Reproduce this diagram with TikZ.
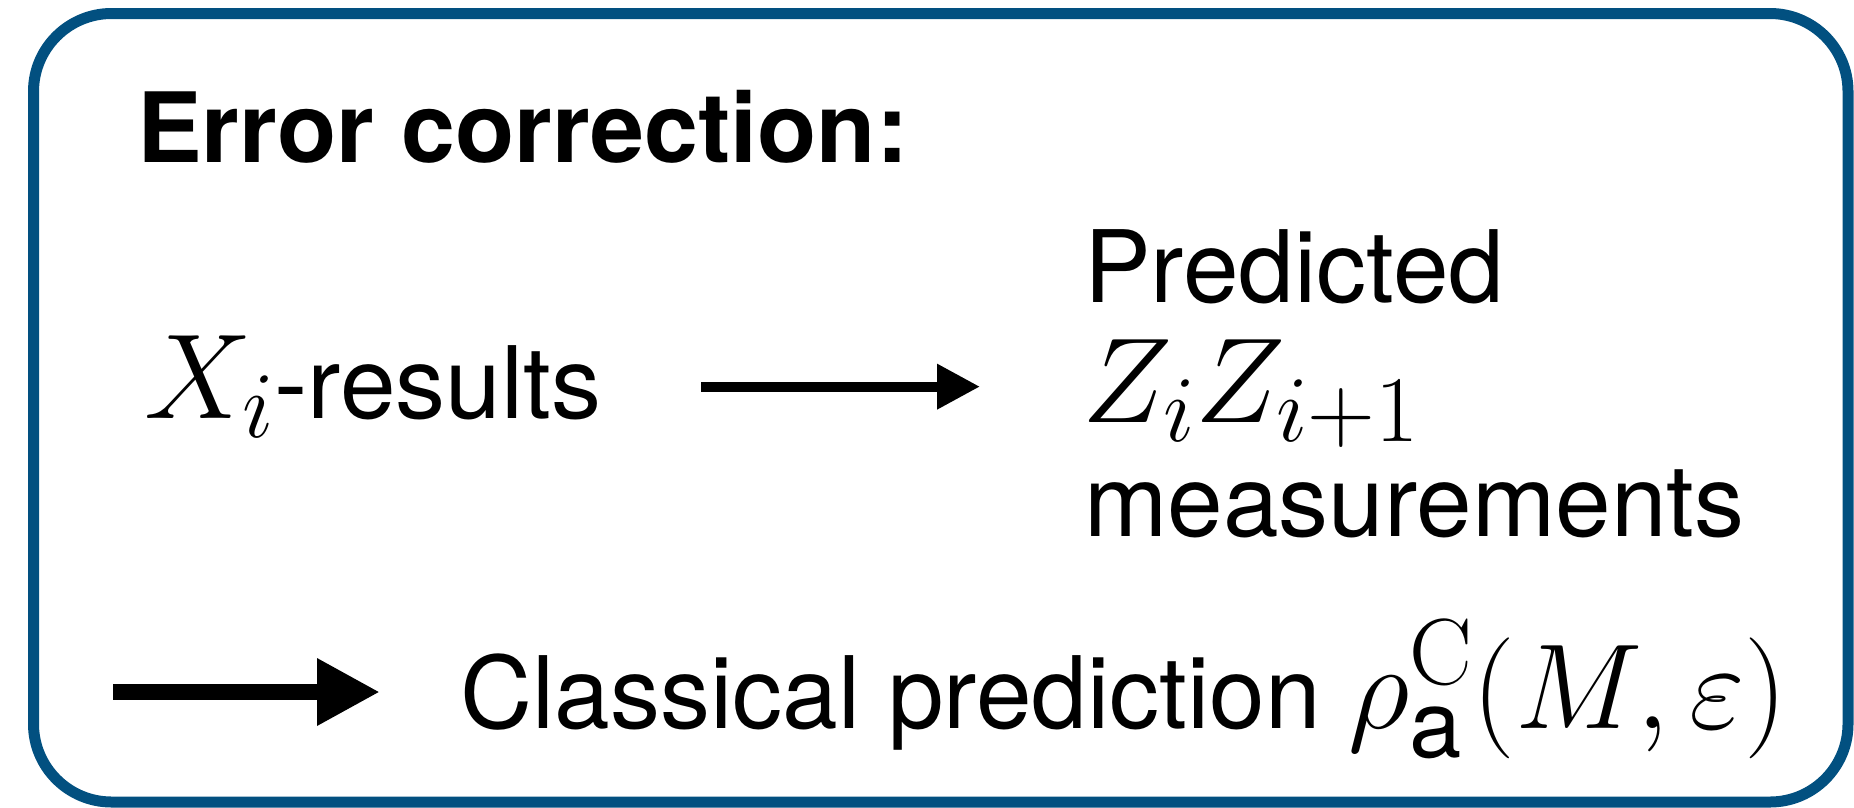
\RequirePackage{fix-cm}
\documentclass[tikz,border=0pt]{standalone}
\usepackage{amsmath}
\usepackage[no-math]{fontspec}
\setmainfont{TeX Gyre Heros}
\usepackage{tikz}
\usetikzlibrary{arrows.meta,positioning}
\definecolor{frameblue}{RGB}{2,80,128}
\DeclareMathSizes{121}{121}{94}{68}
\newcommand{\txtsz}{\fontsize{100}{120}\selectfont}
\newcommand{\titlesz}{\fontsize{97}{116}\selectfont}
\newcommand{\mathsz}{\fontsize{121}{142}\selectfont}

\begin{document}
\begin{tikzpicture}[x=1pt, y=-1pt,
  lbl/.style={inner sep=0pt, anchor=base west, font=\txtsz},
  arr/.style={-{Triangle[length=43pt, width=43pt]}, line width=10pt},
  bigarr/.style={-{Triangle[length=63pt, width=63pt]}, line width=16pt}
]
\useasboundingbox (0,0) rectangle (1854,807);
%% ---- frame ----
\draw[frameblue, line width=11pt, rounded corners=78pt] (33.5,13.5) rectangle (1848,802);

%% ---- texts ----
\node[lbl, font=\titlesz\bfseries] (title) at (137,162) {Error correction:};
\node[lbl] (xres) at (144,418) {{\mathsz$X_i$}-results};
\node[lbl] (pred) at (1084,302) {Predicted};
\node[lbl] (zz)   at (1082,422) {{\mathsz$Z_iZ_{i+1}$}};
\node[lbl] (meas) at (1084,536) {measurements};
\node[lbl] (clpred) at (460,728)
  {Classical prediction {\mathsz$\rho^{\mathrm{C}}_{\text{a}}(M,\varepsilon)$}};

%% ---- arrows ----
\coordinate (start) at (113,692);
\draw[arr, shorten <=100pt, shorten >=102pt] (xres.east) -- (xres.east -| zz.west);
\draw[bigarr, shorten >=80pt] (start) -- (start -| clpred.west);
\end{tikzpicture}
\end{document}
